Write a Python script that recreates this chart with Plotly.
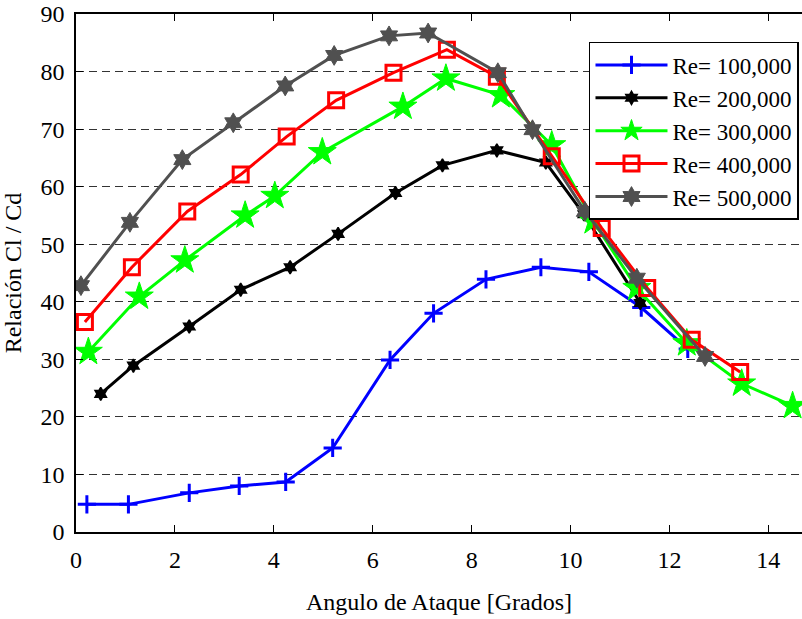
import plotly.graph_objects as go

# Angle of attack (degrees) and Cl/Cd ratio for each Reynolds number
x_re100k = [0.22, 1.06, 2.29, 3.30, 4.24, 5.19, 6.35, 7.23, 8.29, 9.40, 10.37, 11.43, 12.37]
y_re100k = [4.8, 4.8, 6.8, 8.0, 8.7, 14.6, 29.9, 38.0, 43.9, 46.0, 45.2, 39.0, 31.8]

x_re200k = [0.50, 1.16, 2.29, 3.33, 4.33, 5.30, 6.46, 7.41, 8.51, 9.50, 10.27, 11.41]
y_re200k = [24.0, 28.9, 35.7, 42.1, 46.0, 51.8, 58.9, 63.7, 66.3, 64.2, 55.2, 39.8]

x_re300k = [0.25, 1.28, 2.20, 3.42, 4.02, 4.98, 6.61, 7.48, 8.59, 9.62, 10.46, 11.34, 12.35, 13.46, 14.49]
y_re300k = [31.3, 40.9, 47.2, 55.0, 58.4, 66.0, 73.9, 78.8, 75.9, 67.2, 54.0, 42.4, 32.8, 25.8, 21.9]

x_re400k = [0.18, 1.13, 2.25, 3.33, 4.26, 5.26, 6.42, 7.50, 8.51, 9.62, 10.63, 11.55, 12.45, 13.43]
y_re400k = [36.5, 46.0, 55.7, 62.1, 68.7, 75.0, 79.8, 83.8, 79.1, 65.3, 52.8, 42.4, 33.4, 27.8]

x_re500k = [0.10, 1.09, 2.15, 3.18, 4.23, 5.22, 6.33, 7.12, 8.53, 9.23, 10.29, 11.34, 12.72]
y_re500k = [42.8, 53.8, 64.7, 71.1, 77.5, 82.8, 86.2, 86.7, 79.8, 69.9, 55.7, 44.1, 30.5]

series_names = ["Re= 100,000", "Re= 200,000", "Re= 300,000", "Re= 400,000", "Re= 500,000"]
x_ticks = [0, 2, 4, 6, 8, 10, 12, 14]
y_ticks = [0, 10, 20, 30, 40, 50, 60, 70, 80, 90]

FONT = "Liberation Serif"
serif = dict(family=FONT, size=24, color="black")
legend_font = dict(family=FONT, size=23, color="black")

styles = [
    dict(color="#0000ff", symbol="cross-thin-open", size=13, mline=3, fill="#0000ff"),
    dict(color="#000000", symbol="hexagram", size=10, mline=1.5, fill="#000000"),
    dict(color="#00ff00", symbol="star", size=21, mline=1, fill="#00ff00"),
    dict(color="#ff0000", symbol="square-open", size=15, mline=3, fill="#ff0000"),
    dict(color="#505050", symbol="hexagram", size=15, mline=1, fill="#505050"),
]

data = [
    (x_re100k, y_re100k),
    (x_re200k, y_re200k),
    (x_re300k, y_re300k),
    (x_re400k, y_re400k),
    (x_re500k, y_re500k),
]

fig = go.Figure()
for (xs, ys), name, st in zip(data, series_names, styles):
    fig.add_trace(go.Scatter(
        x=xs, y=ys, name=name, mode="lines+markers",
        line=dict(color=st["color"], width=3),
        marker=dict(symbol=st["symbol"], size=st["size"], color=st["fill"],
                    line=dict(color=st["color"], width=st["mline"])),
        cliponaxis=True,
    ))

fig.update_layout(
    template="none",
    width=802, height=619,
    margin=dict(l=76, r=0, t=14, b=87, autoexpand=False),
    paper_bgcolor="white", plot_bgcolor="white",
    font=serif,
    showlegend=True,
    legend=dict(
        x=0.7066, y=0.946, xanchor="left", yanchor="top",
        bgcolor="white", bordercolor="black", borderwidth=1.5,
        font=legend_font,
        itemwidth=72, tracegroupgap=0,
    ),
    xaxis=dict(
        range=[0, 14.68], tickvals=x_ticks, ticktext=[str(v) for v in x_ticks],
        tickfont=serif,
        showgrid=False, zeroline=False,
        showline=True, linecolor="black", linewidth=1.5, mirror="ticks",
        ticks="inside", ticklen=7, tickcolor="black", tickwidth=1,
        ticklabelstandoff=5,
        title=dict(text="Angulo de Ataque [Grados]", standoff=22, font=serif),
    ),
    yaxis=dict(
        range=[0, 90], tickvals=y_ticks, ticktext=[str(v) for v in y_ticks],
        tickfont=serif,
        showgrid=True, gridcolor="#333333", gridwidth=1, griddash="8px,5px",
        zeroline=False,
        showline=True, linecolor="black", linewidth=1.5, mirror=False,
        ticks="inside", ticklen=7, tickcolor="black", tickwidth=1,
        ticklabelstandoff=5,
        title=dict(text="Relación Cl / Cd", standoff=12, font=serif),
    ),
)

fig.write_html("out.html")
